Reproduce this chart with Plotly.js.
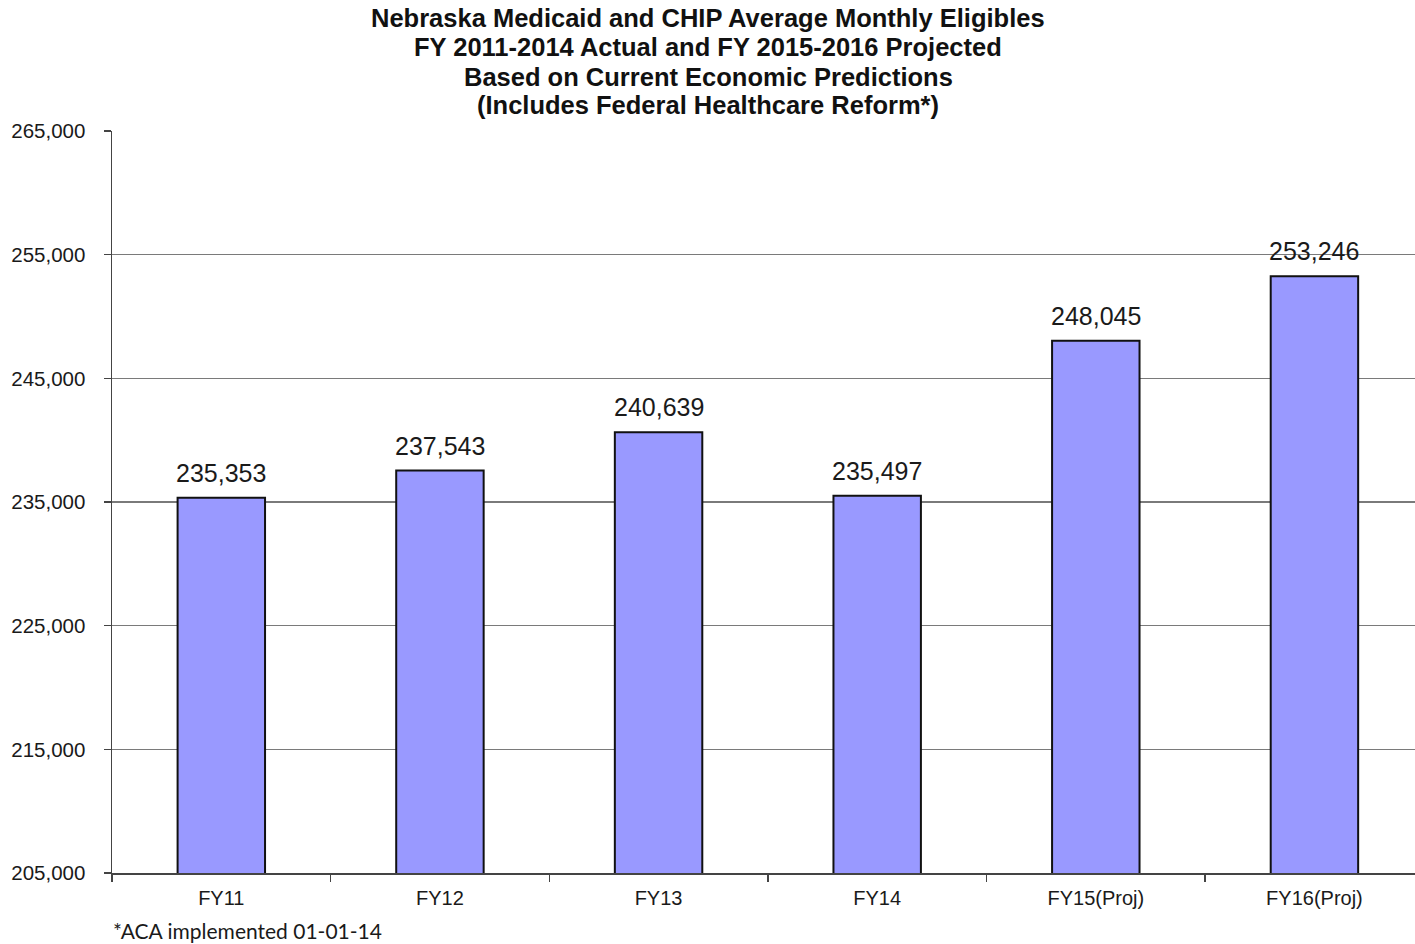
<!DOCTYPE html>
<html><head><meta charset="utf-8">
<script src="https://cdn.plot.ly/plotly-3.0.1.min.js"></script>
<style>html,body{margin:0;padding:0;background:#fff}#chart{width:1415px;height:944px}</style>
</head><body><div id="chart"></div>
<script>
const categories = ["FY11","FY12","FY13","FY14","FY15(Proj)","FY16(Proj)"];
const eligibles = [235353, 237543, 240639, 235497, 248045, 253246];
const yTicks = [205000, 215000, 225000, 235000, 245000, 255000, 265000];
const titleLines = [
  "Nebraska Medicaid and CHIP Average Monthly Eligibles",
  "FY 2011-2014 Actual and FY 2015-2016 Projected",
  "Based on Current Economic Predictions",
  "(Includes Federal Healthcare Reform*)"
];
const footnote = "*ACA implemented 01-01-14";

const fmt = v => v.toLocaleString('en-US');

const trace = {
  type: 'bar',
  x: categories,
  y: eligibles,
  marker: {color: '#9999FF', line: {color: '#111', width: 2}},
  hoverinfo: 'none'
};

// layout geometry (pixels)
const H = 944, mt = 131, mb = 71;
const plotH = H - mt - mb;
const pxToPaper = py => (H - mb - py) / plotH;
const titleCenters = [18, 47, 77, 105];

const annotations = [];
titleLines.forEach((t, i) => annotations.push({
  text: '<b>' + t + '</b>',
  xref: 'paper', yref: 'paper',
  x: (708 - 112) / (1415 - 112), y: pxToPaper(titleCenters[i]),
  xanchor: 'center', yanchor: 'middle', showarrow: false, borderpad: 0,
  font: {family: 'Liberation Sans, Arial, sans-serif', size: 25.5, color: '#111'}
}));
categories.forEach((c, i) => annotations.push({
  text: fmt(eligibles[i]),
  xref: 'x', yref: 'y', x: c, y: eligibles[i],
  xanchor: 'center', yanchor: 'middle', yshift: 25, showarrow: false,
  font: {family: 'Liberation Sans, Arial, sans-serif', size: 25, color: '#1a1a1a'}
}));
annotations.push({
  text: footnote,
  xref: 'paper', yref: 'paper',
  x: 0, y: pxToPaper(930), xanchor: 'left', yanchor: 'middle',
  showarrow: false, borderpad: 0,
  font: {family: 'Lato, Open Sans, sans-serif', size: 21, color: '#1a1a1a'}
});

const layout = {
  width: 1415, height: H,
  margin: {l: 112, r: 0, t: mt, b: mb},
  paper_bgcolor: '#fff', plot_bgcolor: '#fff',
  showlegend: false,
  bargap: 0.6,
  xaxis: {
    type: 'category',
    range: [-0.5, 5.46],
    showline: true, linecolor: '#444', linewidth: 1.5,
    ticks: 'outside', tickson: 'boundaries', ticklen: 7, tickcolor: '#444', tickwidth: 1.5,
    showgrid: false,
    tickfont: {family: 'Liberation Sans, Arial, sans-serif', size: 20, color: '#1a1a1a'},
    ticklabelstandoff: 6,
    fixedrange: true
  },
  yaxis: {
    range: [205000, 265000],
    tickvals: yTicks,
    ticktext: yTicks.map(fmt),
    showline: true, linecolor: '#444', linewidth: 1.5,
    ticks: 'outside', ticklen: 7, tickcolor: '#444', tickwidth: 1.5,
    showgrid: true, gridcolor: '#7a7a7a', gridwidth: 1.2,
    zeroline: false,
    tickfont: {family: 'Liberation Sans, Arial, sans-serif', size: 20.5, color: '#1a1a1a'},
    ticklabelstandoff: 14,
    fixedrange: true
  },
  annotations: annotations
};

Plotly.newPlot('chart', [trace], layout, {displayModeBar: false, staticPlot: true});
</script>
</body></html>
